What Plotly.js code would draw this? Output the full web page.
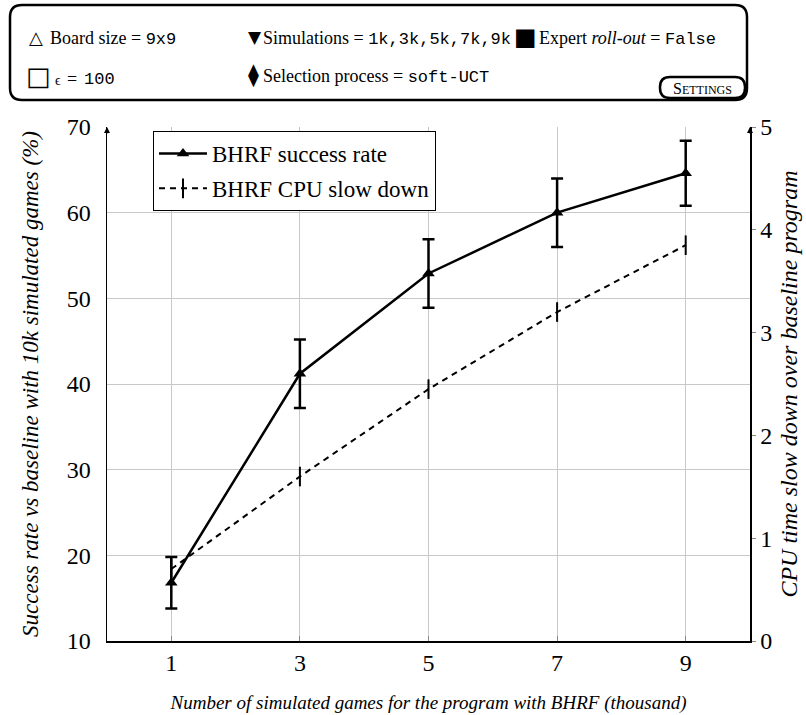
<!DOCTYPE html>
<html>
<head>
<meta charset="utf-8">
<script src="https://cdn.plot.ly/plotly-3.0.1.min.js"></script>
<style>html,body{margin:0;padding:0;background:#fff;}#chart{width:806px;height:715px;}</style>
</head>
<body>
<div id="chart"></div>
<script>
// ---- data ----
const simulations = [1, 3, 5, 7, 9];                 // thousand simulated games
const successRate = [16.8, 41.2, 52.9, 60.0, 64.6];  // %
const successErr  = [3.0, 4.0, 4.0, 4.0, 3.8];       // %
const cpuSlowDown = [0.7, 1.6, 2.45, 3.2, 3.85];     // x baseline
const leftTicks  = [10, 20, 30, 40, 50, 60, 70];
const rightTicks = [0, 1, 2, 3, 4, 5];
const xTicks = [1, 3, 5, 7, 9];

const SERIF = "Liberation Serif";
const MONO = "Liberation Mono";

// plot area in pixels (for placing decorations outside it)
const L = 107, R = 750, T = 127, B = 641;
const px = v => (v - L) / (R - L);
const py = v => (B - v) / (B - T);

function roundRect(x0, y0, x1, y1, r) {
  const X = px, Y = py;
  return `M ${X(x0 + r)} ${Y(y0)} L ${X(x1 - r)} ${Y(y0)} Q ${X(x1)} ${Y(y0)} ${X(x1)} ${Y(y0 + r)} ` +
         `L ${X(x1)} ${Y(y1 - r)} Q ${X(x1)} ${Y(y1)} ${X(x1 - r)} ${Y(y1)} ` +
         `L ${X(x0 + r)} ${Y(y1)} Q ${X(x0)} ${Y(y1)} ${X(x0)} ${Y(y1 - r)} ` +
         `L ${X(x0)} ${Y(y0 + r)} Q ${X(x0)} ${Y(y0)} ${X(x0 + r)} ${Y(y0)} Z`;
}

const mono = s => `<span style="font-family:${MONO};font-size:17px">${s}</span>`;

const traces = [
  {
    x: simulations, y: successRate, name: "BHRF success rate",
    type: "scatter", mode: "lines+markers", legendgroup: "a",
    line: {color: "#000", width: 2.5},
    marker: {symbol: "triangle-up", size: 11, color: "#000"},
    error_y: {type: "data", array: successErr, visible: true, color: "#000", thickness: 2.5, width: 6},
    yaxis: "y"
  },
  {
    x: simulations, y: cpuSlowDown, name: "BHRF CPU slow down",
    type: "scatter", mode: "lines+markers", legendgroup: "b",
    line: {color: "#000", width: 2, dash: "6px,5px"},
    marker: {symbol: "line-ns-open", size: 14, color: "#000", line: {color: "#000", width: 2}},
    yaxis: "y2"
  }
];

function ann(x, y, text, size, fam) {
  return {
    x: px(x), y: py(y), xref: "paper", yref: "paper",
    text: text, showarrow: false, xanchor: "left", yanchor: "middle",
    font: {family: fam || SERIF, size: size || 18, color: "#000"}
  };
}

const annotations = [
  ann(27, 38, "△", 18, "DejaVu Sans"),
  ann(48, 39, "Board size = " + mono("9x9"), 18),
  ann(246, 37, "▼", 17, "DejaVu Sans"),
  ann(261, 39, "Simulations = " + mono("1k,3k,5k,7k,9k"), 18),
  ann(512, 37, "■", 24, "DejaVu Sans"),
  ann(537, 39, "Expert <i>roll-out</i> = " + mono("False"), 18),
  ann(24, 76, "□", 26, "DejaVu Sans"),
  ann(53, 80, "ϵ", 14),
  ann(65, 79, "=", 18),
  ann(82, 79, mono("100"), 18),
  ann(246, 75, "⧫", 22, "DejaVu Sans"),
  ann(261, 77, "Selection process = " + mono("soft-UCT"), 18),
  Object.assign(ann(702, 88, "S<span style='font-size:12px'>ETTINGS</span>", 16), {xanchor: "center"}),
  // axis arrowheads
  {x: 0, y: 1, xref: "paper", yref: "paper", ax: 0, ay: 8, showarrow: true,
   arrowhead: 2, arrowsize: 1, arrowwidth: 1.2, arrowcolor: "#000", text: ""},
  {x: 1, y: 1, xref: "paper", yref: "paper", ax: 0, ay: 8, showarrow: true,
   arrowhead: 2, arrowsize: 1, arrowwidth: 1.2, arrowcolor: "#000", text: ""}
];

const shapes = [
  {type: "path", xref: "paper", yref: "paper", path: roundRect(10, 5, 747, 100, 12),
   line: {color: "#000", width: 2.5}, fillcolor: "rgba(0,0,0,0)", layer: "above"},
  {type: "path", xref: "paper", yref: "paper", path: roundRect(660, 77, 745, 98, 10),
   line: {color: "#000", width: 2.5}, fillcolor: "#fff", layer: "below"}
];

const layout = {
  width: 806, height: 715,
  margin: {l: L, r: 806 - R, t: T, b: 715 - B, pad: 0},
  paper_bgcolor: "#fff", plot_bgcolor: "#fff",
  font: {family: SERIF, color: "#000"},
  showlegend: true,
  legend: {
    x: px(153), y: py(131), xanchor: "left", yanchor: "top",
    bordercolor: "#000", borderwidth: 1, bgcolor: "#fff",
    font: {family: SERIF, size: 23, color: "#000"},
    traceorder: "grouped", tracegroupgap: 2, itemwidth: 48
  },
  xaxis: {
    range: [0, 10], tickvals: xTicks, ticktext: xTicks.map(String),
    showgrid: true, gridcolor: "#c8c8c8", gridwidth: 1,
    showline: true, linecolor: "#000", linewidth: 1.5,
    ticks: "inside", ticklen: 5, tickcolor: "#888",
    zeroline: false, fixedrange: true,
    tickfont: {family: SERIF, size: 24, color: "#000"},
    title: {text: "<i>Number of simulated games for the program with BHRF (thousand)</i>",
            font: {family: SERIF, size: 19, color: "#000"}, standoff: 20}
  },
  yaxis: {
    range: [10, 70], tickvals: leftTicks, ticktext: leftTicks.map(String),
    showgrid: true, gridcolor: "#c8c8c8", gridwidth: 1,
    showline: true, linecolor: "#000", linewidth: 1.5,
    ticks: "", ticklabelstandoff: 10, zeroline: false, fixedrange: true,
    tickfont: {family: SERIF, size: 24, color: "#000"},
    title: {text: "<i>Success rate vs baseline with 10k simulated games (%)</i>",
            font: {family: SERIF, size: 23, color: "#000"}, standoff: 21}
  },
  yaxis2: {
    range: [0, 5], tickvals: rightTicks, ticktext: rightTicks.map(String),
    overlaying: "y", side: "right", anchor: "x",
    showgrid: false, showline: true, linecolor: "#000", linewidth: 1.5,
    ticks: "outside", ticklen: 4, tickcolor: "#888",
    zeroline: false, fixedrange: true,
    tickfont: {family: SERIF, size: 24, color: "#000"},
    title: {text: "<i>CPU time slow down over baseline program</i>",
            font: {family: SERIF, size: 24, color: "#000"}, standoff: 9}
  },
  annotations: annotations,
  shapes: shapes
};

Plotly.newPlot("chart", traces, layout, {displayModeBar: false, staticPlot: true});
</script>
</body>
</html>
